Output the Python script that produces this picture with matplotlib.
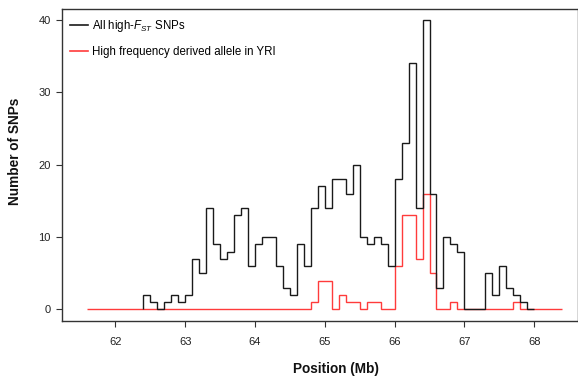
import numpy as np
import matplotlib
matplotlib.use("Agg")
import matplotlib.pyplot as plt

plt.rcParams['font.family'] = ['Liberation Sans', 'DejaVu Sans']
plt.rcParams['mathtext.fontset'] = 'custom'
plt.rcParams['mathtext.rm'] = 'Liberation Sans'
plt.rcParams['mathtext.it'] = 'Liberation Sans:italic'
plt.rcParams['mathtext.bf'] = 'Liberation Sans:bold'

# Black series: all high-FST SNPs, 0.1 Mb bins from 62.4 to 68.0
all_start, all_end = 62.4, 68.0
all_counts = [2, 1, 0, 1, 2, 1, 2, 7, 5, 14,
              9, 7, 8, 13, 14, 6, 9, 10, 10, 6,
              3, 2, 9, 6, 14, 17, 14, 18, 18, 16,
              20, 10, 9, 10, 9, 6, 18, 23, 34, 14,
              40, 16, 3, 10, 9, 8, 0, 0, 0, 5,
              2, 6, 3, 2, 1, 0]

# Red series: high frequency derived allele in YRI, 0.1 Mb bins from 61.6 to 68.4
yri_start, yri_end = 61.6, 68.4
yri_counts = [0] * 32 + [1, 4, 4, 0, 2, 1, 1, 0, 1, 1,
                         0, 0, 6, 13, 13, 7, 16, 5, 0, 0,
                         1, 0, 0, 0, 0, 0, 0, 0, 0, 1,
                         0, 0, 0, 0, 0, 0]

x_ticks = [62, 63, 64, 65, 66, 67, 68]
y_ticks = [0, 10, 20, 30, 40]
labels = ["All high-$F_{ST}$ SNPs", "High frequency derived allele in YRI"]

W, H = 578, 377
fig = plt.figure(figsize=(W / 100, H / 100), dpi=100)
ax = fig.add_axes([62 / W, (H - 321) / H, (577.5 - 62) / W, (321 - 9) / H])

all_edges = np.linspace(all_start, all_end, len(all_counts) + 1)
yri_edges = np.linspace(yri_start, yri_end, len(yri_counts) + 1)

ax.stairs(yri_counts, yri_edges, baseline=0, color='#ff3b3b', lw=1.0,
          label=labels[1], zorder=2)
ax.stairs(all_counts, all_edges, baseline=0, color='#1a1a1a', lw=1.0,
          label=labels[0], zorder=3)

ax.set_xlim(61.235, 68.62)
ax.set_ylim(-1.59, 41.5)
ax.set_xticks(x_ticks)
ax.set_yticks(y_ticks)
ax.tick_params(direction='out', length=4, width=0.8, colors='#333333',
               labelsize=8, labelcolor='#222222')
ax.tick_params(axis='x', pad=7.5)
ax.tick_params(axis='y', pad=4)
for s in ax.spines.values():
    s.set_color('#333333')
    s.set_linewidth(1.0)

ax.set_xlabel("Position (Mb)", fontsize=9.8, fontweight='bold', color='#111111')
ax.xaxis.set_label_coords((335.5 - 62) / 515.5, -(368.7 - 321) / 312)
ax.xaxis.label.set_va('center')
ax.set_ylabel("Number of SNPs", fontsize=9.8, fontweight='bold', color='#111111')
ax.yaxis.set_label_coords((15 - 62) / 515.5, (321 - 151) / 312)
ax.yaxis.label.set_va('center')

handles, labs = ax.get_legend_handles_labels()
from matplotlib.lines import Line2D
h = [Line2D([], [], color='#1a1a1a', lw=1.2), Line2D([], [], color='#ff3b3b', lw=1.2)]
ax.legend(h, labels, loc='upper left', bbox_to_anchor=((70 - 62) / 515.5, (321 - 18) / 312),
          frameon=False, fontsize=8.3, handlelength=1.55, handletextpad=0.35,
          borderpad=0, borderaxespad=0, labelspacing=1.05)

fig.savefig("out.png", dpi=100)
